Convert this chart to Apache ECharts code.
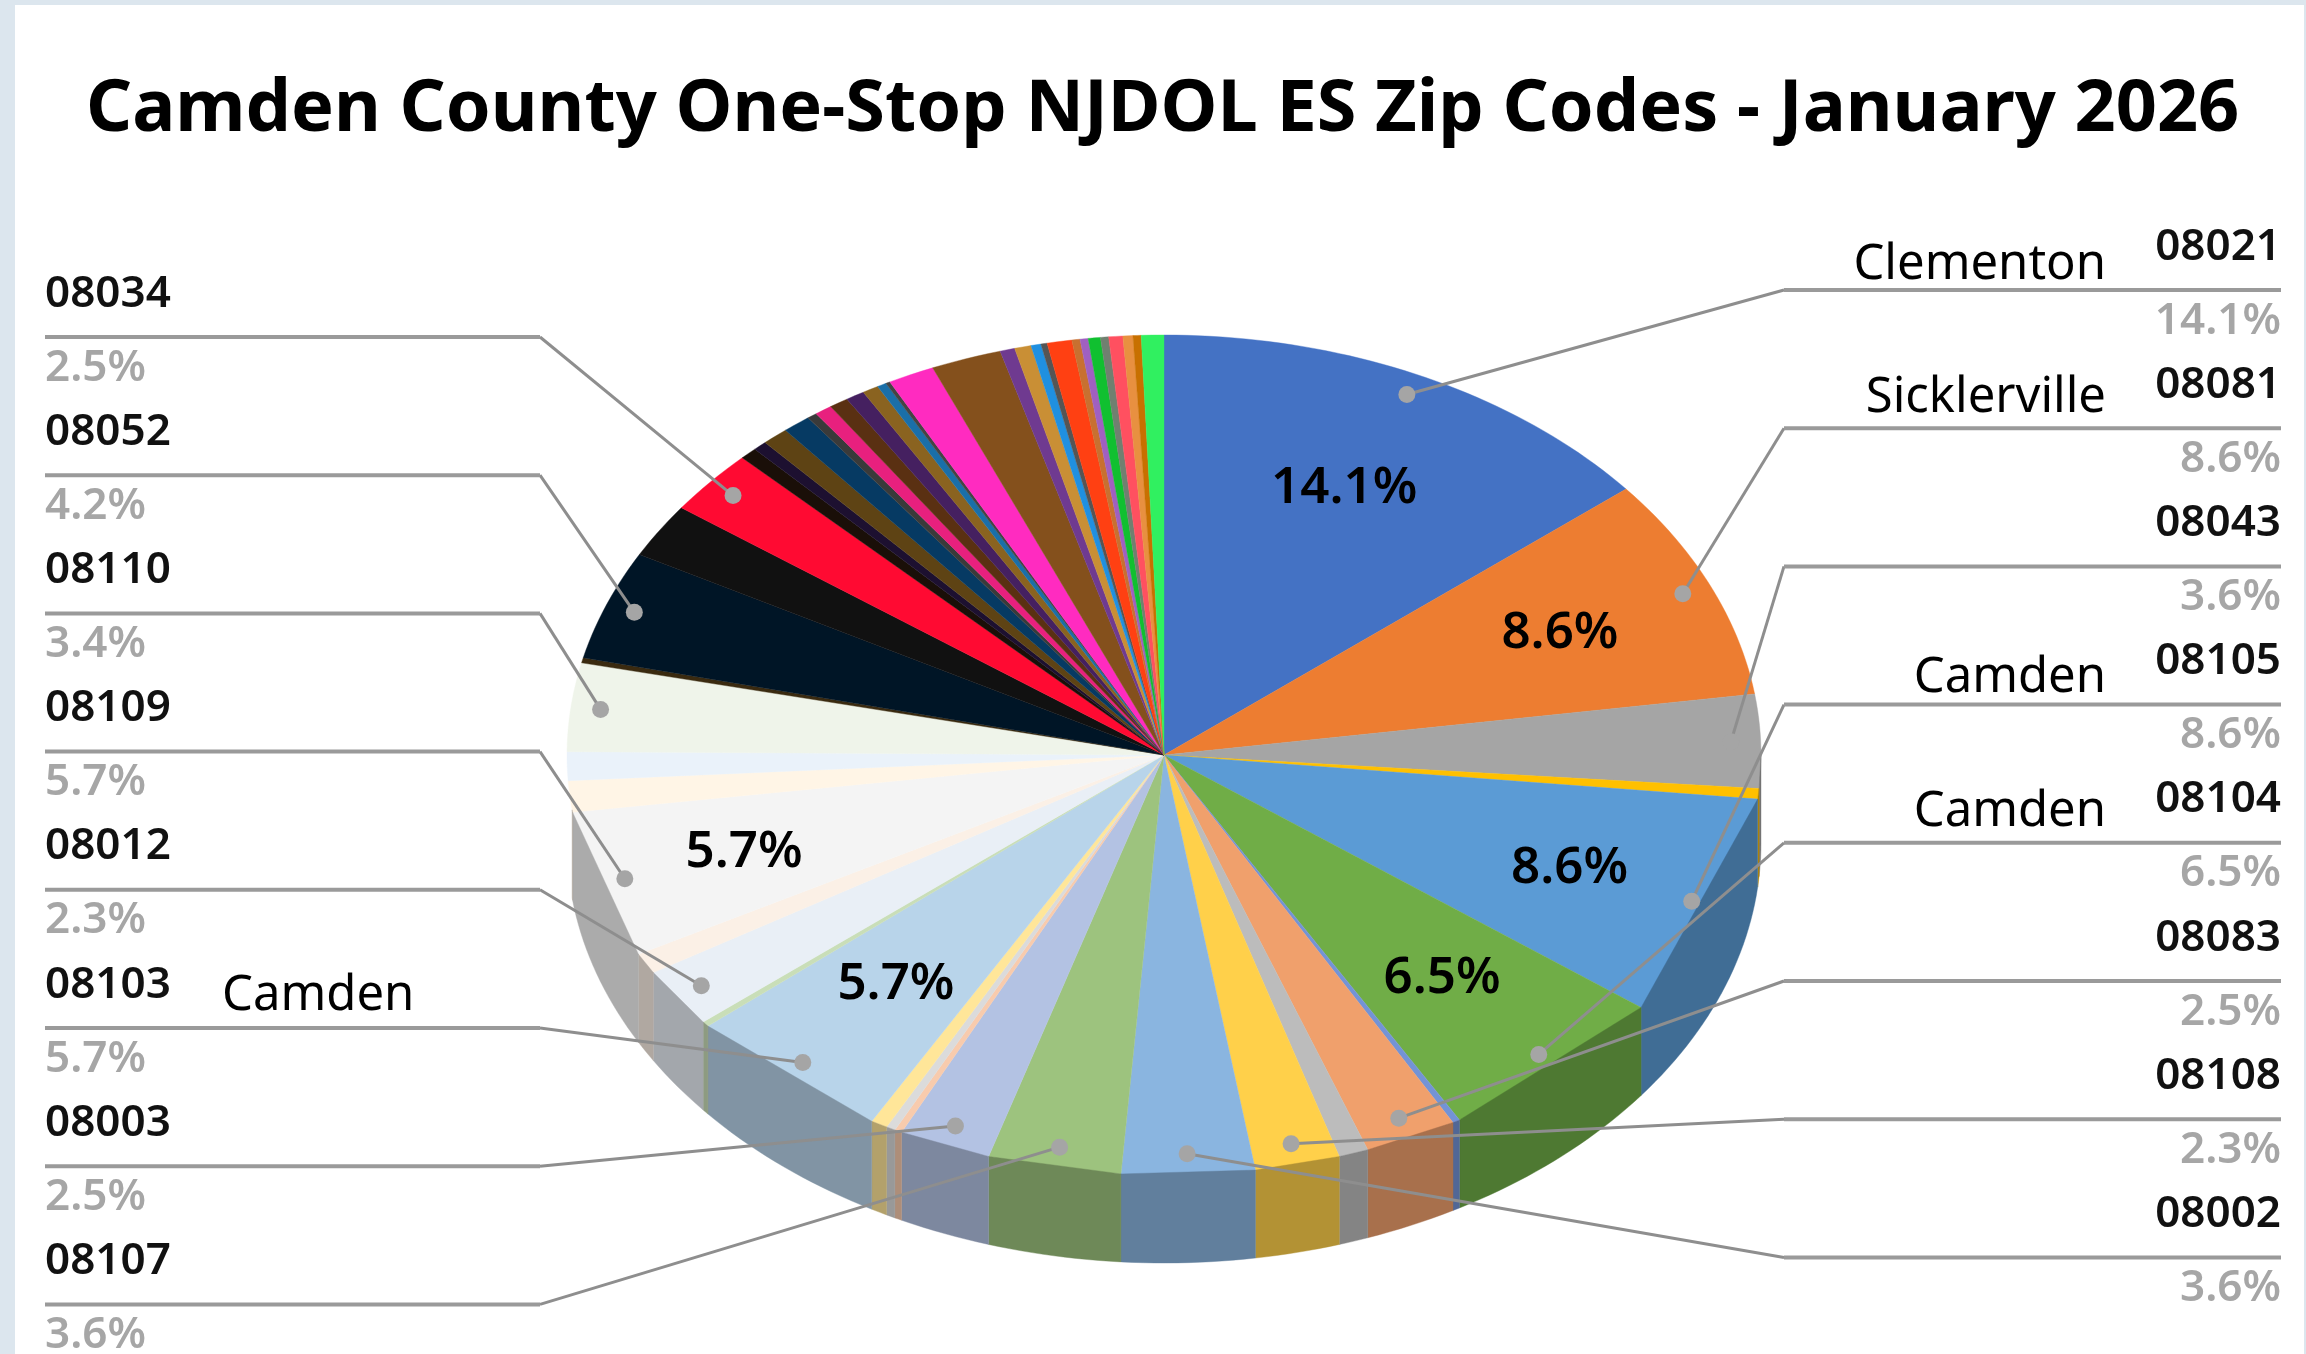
<!DOCTYPE html>
<html>
<head>
<meta charset="utf-8">
<style>
html,body{margin:0;padding:0;width:2306px;height:1354px;background:#DCE6EE;overflow:hidden}
#panel{position:absolute;left:15px;top:5px;width:2289px;height:1349px;background:#fff}
#main{position:absolute;left:0;top:0;width:2306px;height:1354px;filter:blur(0.7px)}
</style>
<script src="https://cdn.jsdelivr.net/npm/echarts@6/dist/echarts.min.js"></script>
</head>
<body>
<div id="panel"></div>
<div id="main"></div>
<script>
const chartTitle = 'Camden County One-Stop NJDOL ES Zip Codes - January 2026';

// slices clockwise from 12 o'clock; '' = zip code with no label in the picture
const zipCodes = ['08021','08081','08043','','08105','08104','','08083','','08108','08002','08107','08003','','','','08103','','08012','','08109','','','08110','','08052','','08034',
  '','','','','','','','','','','','','','','','','','','','','','','','','','','',''];
const shares = [14.1,8.6,3.6,0.4,8.6,6.5,0.2,2.5,0.8,2.3,3.6,3.6,2.5,0.2,0.25,0.45,5.7,0.2,2.3,0.8,5.7,1.2,1.1,3.4,0.2,4.2,2.1,2.5,
  0.47,0.37,0.72,0.76,0.27,0.47,0.52,0.51,0.44,0.25,0.12,1.26,1.91,0.40,0.45,0.27,0.17,0.67,0.22,0.22,0.33,0.22,0.38,0.27,0.22,0.61];
const sliceColors = ['#4472C4','#ED7D31','#A5A5A5','#FFC000','#5B9BD5','#70AD47','#7393D6','#F0A06C','#BCBCBC','#FFD04A','#8AB5E0','#9DC37E','#B3C2E3','#F8CBAD','#DBDBDB','#FFE699','#B8D4EA','#C9DEB8','#E9EFF6','#FBF0E6','#F4F4F4','#FFF5E6','#EAF2FA','#EFF4EA','#3A2A10','#001526','#111111','#FF0A32',
  '#1A0F08','#1D1030','#5E4314','#063A63','#3A3A3A','#E8207E','#5A3012','#452060','#8A6320','#1A6FA8','#444444','#FF2BC0','#84501C','#6F3A90','#C98F35','#2090E0','#555555','#FF4012','#C87030','#A060C0','#10C030','#708070','#FF5060','#E89040','#C87000','#30F060'];
const leftZips = ['08034','08052','08110','08109','08012','08103','08003','08107'];
const rightZips = ['08021','08081','08043','08105','08104','08083','08108','08002'];
const cityNames = {'08021':'Clementon','08081':'Sicklerville','08105':'Camden','08104':'Camden','08103':'Camden'};
const insideLabelZips = ['08021','08081','08105','08104','08109','08103'];

// geometry and layout (pixels)
const geo = {cx:1164, cy:755, rx:597, ry:420, depth:88};
const dotR = 0.95, textR = {def:0.705, '08109':0.74, '08081':0.725, '08105':0.73};
const rows = {leftY:337, rightY:290, step:138.2, leftElbow:540, rightElbow:1784, leftX:45, rightX:2281};
const cityPos = {'08021':[2106,265],'08081':[2106,398],'08105':[2106,678],'08104':[2106,812],'08103':[222,996]};
const textColor = '#000', percentGrey = '#A6A6A6', lineGrey = '#8E8E8E', dotGrey = '#A5A5A5';
const fontName = '"Noto Sans"';

const total = shares.reduce((a,b)=>a+b,0);
const starts = []; let run = 0;
shares.forEach(v=>{starts.push(run/total*Math.PI*2); run += v;});
const endOf = i => i+1<shares.length ? starts[i+1] : Math.PI*2;
const pt = (t,r=1,dy=0)=>[geo.cx+geo.rx*r*Math.sin(t), geo.cy-geo.ry*r*Math.cos(t)+dy];
const arc = (a,b,r,dy)=>{const n=Math.max(2,Math.ceil(Math.abs(b-a)/0.02));const o=[];for(let k=0;k<=n;k++)o.push(pt(a+(b-a)*k/n,r,dy));return o;};
function shade(hex,f){const n=parseInt(hex.slice(1),16);const c=s=>Math.round(((n>>s)&255)*f);return 'rgb('+c(16)+','+c(8)+','+c(0)+')';}
const wallFrom = Math.PI/2, wallTo = 262.5/180*Math.PI;

const seriesData = shares.map((v,i)=>[i,v]);

function renderTop(params,api){
  const i = api.value(0), a = starts[i], b = endOf(i);
  const c = sliceColors[i];
  return {type:'polygon',shape:{points:[[geo.cx,geo.cy]].concat(arc(a,b,1,0))},style:{fill:c,stroke:c,lineWidth:0.4},silent:true};
}
function renderWall(params,api){
  const i = api.value(0), a = Math.max(starts[i],wallFrom), b = Math.min(endOf(i),wallTo);
  if(b<=a) return null;
  const c = shade(sliceColors[i],0.7);
  const pts = [pt(a),pt(b)].concat(arc(b,a,1,geo.depth));
  return {type:'polygon',shape:{points:pts},style:{fill:c,stroke:c,lineWidth:0.4},silent:true};
}
function renderLabels(params,api){
  const i = api.value(0), zip = zipCodes[i];
  if(!zip) return null;
  const mid = (starts[i]+endOf(i))/2;
  const kids = [];
  const pct = api.value(1).toFixed(1)+'%';
  const leftIdx = leftZips.indexOf(zip), rightIdx = rightZips.indexOf(zip);
  const isLeft = leftIdx>=0;
  const y = isLeft ? rows.leftY+rows.step*leftIdx : rows.rightY+rows.step*rightIdx;
  const dot = pt(mid,dotR);
  const pts = isLeft ? [dot,[rows.leftElbow,y],[rows.leftX,y]] : [dot,[rows.rightElbow,y],[rows.rightX,y]];
  kids.push({type:'polyline',shape:{points:[pts[0],pts[1]]},style:{stroke:lineGrey,lineWidth:3,fill:null}});
  kids.push({type:'polyline',shape:{points:[pts[1],pts[2]]},style:{stroke:'#9A9A9A',lineWidth:4,fill:null}});
  kids.push({type:'circle',shape:{cx:dot[0],cy:dot[1],r:8.5},style:{fill:dotGrey}});
  const tx = isLeft ? rows.leftX : rows.rightX, al = isLeft ? 'left':'right';
  kids.push({type:'text',style:{x:tx,y:y-43,text:zip,fill:'#111',font:'600 44px '+fontName,align:al,verticalAlign:'middle'}});
  kids.push({type:'text',style:{x:tx,y:y+31,text:pct,fill:percentGrey,font:'600 44px '+fontName,align:al,verticalAlign:'middle'}});
  if(cityNames[zip]){
    const p = cityPos[zip];
    kids.push({type:'text',style:{x:p[0],y:p[1],text:cityNames[zip],fill:textColor,font:'400 49px '+fontName,align:isLeft?'left':'right',verticalAlign:'middle'}});
  }
  if(insideLabelZips.indexOf(zip)>=0){
    const q = pt(mid,textR[zip]||textR.def);
    kids.push({type:'text',style:{x:q[0],y:q[1]+1,text:pct,fill:textColor,font:'600 51px '+fontName,align:'center',verticalAlign:'middle'}});
  }
  return {type:'group',children:kids,silent:true};
}

const chart = echarts.init(document.getElementById('main'),null,{renderer:'canvas',width:2306,height:1354});
const base = {type:'custom',coordinateSystem:'none',data:seriesData,silent:true,animation:false,clip:false};
chart.setOption({
  animation:false,
  backgroundColor:'transparent',
  title:{text:chartTitle,left:81,top:69,textStyle:{fontFamily:'Noto Sans',fontWeight:700,fontSize:72,color:'#000'}},
  series:[
    Object.assign({},base,{name:'top',z:2,renderItem:renderTop}),
    Object.assign({},base,{name:'wall',z:3,renderItem:renderWall}),
    Object.assign({},base,{name:'labels',z:4,renderItem:renderLabels})
  ]
});
</script>
</body>
</html>
